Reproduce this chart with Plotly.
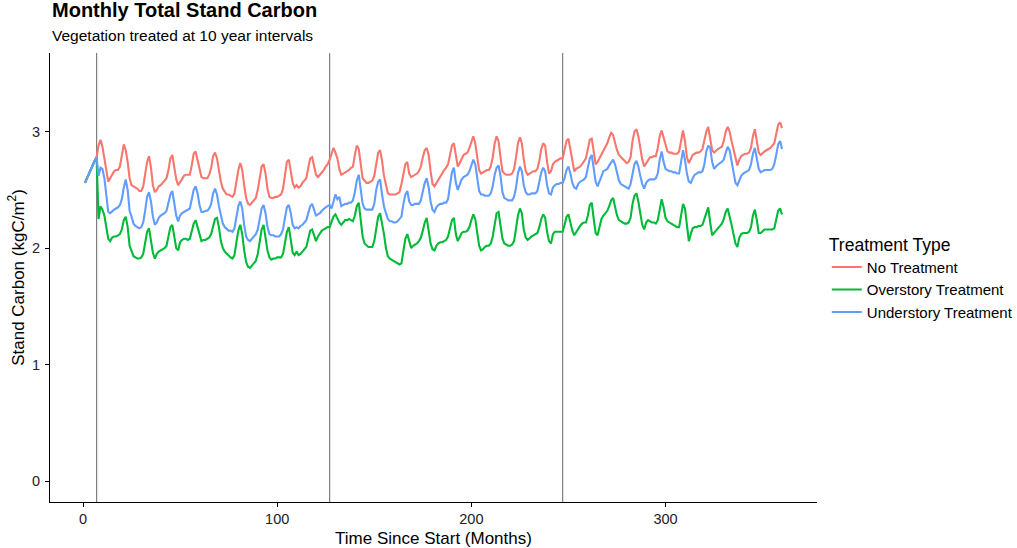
import plotly.graph_objects as go

months = list(range(1, 361))
treat_months = [7, 127, 247]

no_treatment = [
    2.56, 2.60, 2.64, 2.68, 2.71, 2.75, 2.78, 2.88, 2.93, 2.87, 2.77, 2.67,
    2.57, 2.60, 2.63, 2.66, 2.67, 2.67, 2.70, 2.80, 2.89, 2.84, 2.74, 2.60,
    2.54, 2.53, 2.52, 2.51, 2.49, 2.49, 2.53, 2.63, 2.74, 2.79, 2.69, 2.54,
    2.48, 2.50, 2.53, 2.54, 2.56, 2.57, 2.60, 2.67, 2.77, 2.80, 2.71, 2.59,
    2.54, 2.57, 2.60, 2.62, 2.63, 2.63, 2.63, 2.71, 2.81, 2.83, 2.76, 2.67,
    2.61, 2.60, 2.60, 2.60, 2.63, 2.69, 2.79, 2.82, 2.77, 2.66, 2.57, 2.51,
    2.48, 2.46, 2.46, 2.45, 2.44, 2.47, 2.57, 2.67, 2.73, 2.67, 2.54, 2.43,
    2.38, 2.37, 2.39, 2.41, 2.43, 2.50, 2.61, 2.70, 2.72, 2.64, 2.51, 2.44,
    2.43, 2.43, 2.44, 2.44, 2.45, 2.46, 2.51, 2.63, 2.74, 2.76, 2.67, 2.56,
    2.52, 2.54, 2.52, 2.53, 2.56, 2.58, 2.60, 2.69, 2.77, 2.78, 2.71, 2.63,
    2.61, 2.63, 2.65, 2.67, 2.70, 2.72, 2.76, 2.82, 2.86, 2.82, 2.77, 2.68,
    2.63, 2.64, 2.65, 2.66, 2.67, 2.69, 2.70, 2.80, 2.88, 2.85, 2.72, 2.60,
    2.58, 2.56, 2.56, 2.57, 2.58, 2.62, 2.72, 2.82, 2.84, 2.75, 2.62, 2.55,
    2.47, 2.46, 2.46, 2.46, 2.46, 2.47, 2.48, 2.55, 2.65, 2.72, 2.74, 2.64,
    2.61, 2.62, 2.63, 2.64, 2.66, 2.70, 2.78, 2.84, 2.86, 2.80, 2.66, 2.55,
    2.53, 2.56, 2.59, 2.62, 2.64, 2.67, 2.69, 2.72, 2.80, 2.88, 2.90, 2.78,
    2.70, 2.73, 2.77, 2.80, 2.81, 2.82, 2.86, 2.92, 2.96, 2.90, 2.78, 2.67,
    2.64, 2.65, 2.66, 2.67, 2.67, 2.70, 2.78, 2.90, 2.96, 2.92, 2.78, 2.66,
    2.64, 2.63, 2.63, 2.63, 2.64, 2.68, 2.78, 2.90, 2.95, 2.90, 2.76, 2.66,
    2.63, 2.64, 2.65, 2.66, 2.66, 2.68, 2.75, 2.85, 2.90, 2.88, 2.74, 2.64,
    2.66, 2.72, 2.74, 2.75, 2.76, 2.77, 2.77, 2.85, 2.92, 2.94, 2.85, 2.74,
    2.66, 2.68, 2.69, 2.70, 2.72, 2.75, 2.77, 2.85, 2.93, 2.94, 2.82, 2.72,
    2.74, 2.77, 2.81, 2.84, 2.86, 2.90, 2.95, 2.99, 2.97, 2.90, 2.84, 2.80,
    2.78, 2.76, 2.75, 2.73, 2.74, 2.78, 2.92, 3.00, 3.02, 2.96, 2.86, 2.76,
    2.70, 2.73, 2.76, 2.78, 2.78, 2.79, 2.79, 2.86, 2.96, 3.01, 2.95, 2.88,
    2.83, 2.82, 2.82, 2.81, 2.81, 2.81, 2.83, 2.94, 3.01, 2.92, 2.78, 2.73,
    2.77, 2.80, 2.81, 2.82, 2.82, 2.83, 2.85, 2.92, 3.00, 3.04, 2.94, 2.84,
    2.82, 2.84, 2.85, 2.86, 2.87, 2.92, 3.00, 3.04, 3.00, 2.92, 2.84, 2.76,
    2.71, 2.76, 2.79, 2.80, 2.81, 2.81, 2.82, 2.86, 2.96, 3.02, 2.92, 2.82,
    2.80, 2.82, 2.83, 2.84, 2.85, 2.86, 2.88, 2.90, 2.98, 3.06, 3.08, 3.03,
]

overstory = [
    2.56, 2.60, 2.64, 2.68, 2.71, 2.75, 2.78, 2.25, 2.36, 2.33, 2.28, 2.18,
    2.08, 2.06, 2.09, 2.10, 2.10, 2.11, 2.12, 2.16, 2.24, 2.27, 2.18, 2.02,
    1.97, 1.93, 1.92, 1.91, 1.91, 1.92, 1.95, 2.04, 2.14, 2.17, 2.08, 1.96,
    1.91, 1.95, 1.97, 1.98, 1.99, 2.00, 2.02, 2.10, 2.18, 2.20, 2.10, 2.00,
    1.98, 2.05, 2.07, 2.08, 2.08, 2.07, 2.08, 2.14, 2.21, 2.24, 2.18, 2.10,
    2.06, 2.07, 2.07, 2.08, 2.09, 2.12, 2.20, 2.25, 2.26, 2.18, 2.06, 2.00,
    1.97, 1.95, 1.93, 1.92, 1.91, 1.94, 2.05, 2.15, 2.20, 2.12, 1.98, 1.88,
    1.84, 1.83, 1.85, 1.87, 1.89, 1.95, 2.06, 2.16, 2.20, 2.10, 1.98, 1.92,
    1.90, 1.91, 1.91, 1.92, 1.92, 1.92, 1.95, 2.04, 2.14, 2.18, 2.08, 1.96,
    1.94, 1.97, 1.94, 1.95, 1.97, 1.99, 2.01, 2.08, 2.15, 2.16, 2.10, 2.06,
    2.10, 2.13, 2.15, 2.16, 2.17, 2.18, 2.18, 2.23, 2.27, 2.29, 2.25, 2.22,
    2.20, 2.22, 2.24, 2.24, 2.25, 2.24, 2.23, 2.28, 2.36, 2.39, 2.26, 2.10,
    2.04, 2.02, 2.01, 2.01, 2.01, 2.06, 2.18, 2.27, 2.30, 2.22, 2.12, 2.00,
    1.93, 1.91, 1.90, 1.89, 1.88, 1.87, 1.86, 1.87, 1.98, 2.08, 2.12, 2.05,
    2.00, 2.02, 2.03, 2.04, 2.06, 2.09, 2.15, 2.22, 2.26, 2.16, 2.04, 1.99,
    1.98, 2.02, 2.04, 2.05, 2.05, 2.06, 2.07, 2.10, 2.18, 2.24, 2.26, 2.12,
    2.06, 2.10, 2.13, 2.14, 2.14, 2.15, 2.18, 2.24, 2.29, 2.25, 2.12, 2.02,
    1.98, 1.99, 2.01, 2.02, 2.02, 2.04, 2.10, 2.22, 2.30, 2.31, 2.20, 2.08,
    2.04, 2.03, 2.02, 2.02, 2.03, 2.06, 2.16, 2.28, 2.34, 2.30, 2.16, 2.09,
    2.07, 2.09, 2.10, 2.11, 2.12, 2.13, 2.18, 2.25, 2.29, 2.26, 2.14, 2.06,
    2.04, 2.12, 2.14, 2.14, 2.14, 2.14, 2.14, 2.20, 2.27, 2.29, 2.22, 2.15,
    2.11, 2.14, 2.17, 2.19, 2.21, 2.22, 2.22, 2.28, 2.37, 2.39, 2.25, 2.13,
    2.11, 2.18, 2.25, 2.28, 2.30, 2.32, 2.36, 2.41, 2.43, 2.36, 2.28, 2.24,
    2.23, 2.22, 2.21, 2.21, 2.22, 2.26, 2.38, 2.45, 2.47, 2.40, 2.30, 2.20,
    2.16, 2.22, 2.24, 2.23, 2.22, 2.22, 2.21, 2.24, 2.34, 2.42, 2.35, 2.26,
    2.23, 2.22, 2.21, 2.20, 2.19, 2.18, 2.18, 2.28, 2.38, 2.34, 2.20, 2.06,
    2.12, 2.17, 2.18, 2.18, 2.19, 2.19, 2.20, 2.25, 2.32, 2.35, 2.22, 2.11,
    2.13, 2.15, 2.17, 2.19, 2.21, 2.25, 2.31, 2.34, 2.28, 2.20, 2.12, 2.04,
    2.01, 2.09, 2.12, 2.13, 2.13, 2.13, 2.14, 2.18, 2.28, 2.33, 2.24, 2.13,
    2.13, 2.15, 2.16, 2.16, 2.16, 2.16, 2.16, 2.17, 2.25, 2.32, 2.34, 2.29,
]

understory = [
    2.56, 2.60, 2.64, 2.68, 2.71, 2.75, 2.78, 2.62, 2.69, 2.68, 2.60, 2.45,
    2.31, 2.30, 2.32, 2.33, 2.34, 2.35, 2.37, 2.42, 2.52, 2.59, 2.50, 2.32,
    2.27, 2.21, 2.19, 2.18, 2.17, 2.18, 2.22, 2.32, 2.44, 2.48, 2.40, 2.27,
    2.20, 2.22, 2.26, 2.28, 2.29, 2.30, 2.32, 2.38, 2.46, 2.49, 2.40, 2.28,
    2.23, 2.28, 2.30, 2.31, 2.32, 2.33, 2.34, 2.42, 2.50, 2.53, 2.47, 2.37,
    2.31, 2.31, 2.32, 2.32, 2.34, 2.38, 2.47, 2.51, 2.46, 2.36, 2.27, 2.21,
    2.18, 2.16, 2.15, 2.15, 2.14, 2.17, 2.27, 2.36, 2.40, 2.34, 2.20, 2.10,
    2.07, 2.06, 2.08, 2.10, 2.12, 2.16, 2.25, 2.34, 2.37, 2.30, 2.18, 2.12,
    2.11, 2.11, 2.10, 2.10, 2.10, 2.12, 2.16, 2.26, 2.35, 2.37, 2.30, 2.20,
    2.17, 2.18, 2.17, 2.19, 2.20, 2.22, 2.24, 2.30, 2.36, 2.38, 2.32, 2.28,
    2.29, 2.30, 2.32, 2.34, 2.35, 2.36, 2.37, 2.34, 2.40, 2.46, 2.42, 2.44,
    2.36, 2.37, 2.38, 2.38, 2.39, 2.39, 2.41, 2.48, 2.58, 2.63, 2.52, 2.38,
    2.34, 2.33, 2.33, 2.33, 2.33, 2.38, 2.50, 2.57, 2.59, 2.46, 2.36, 2.30,
    2.25, 2.23, 2.23, 2.22, 2.22, 2.23, 2.25, 2.27, 2.38, 2.46, 2.49, 2.40,
    2.37, 2.37, 2.38, 2.38, 2.38, 2.41, 2.48, 2.56, 2.60, 2.52, 2.40, 2.33,
    2.31, 2.35, 2.37, 2.38, 2.38, 2.39, 2.39, 2.42, 2.54, 2.65, 2.69, 2.56,
    2.50, 2.55, 2.59, 2.61, 2.62, 2.63, 2.66, 2.72, 2.76, 2.72, 2.60, 2.49,
    2.46, 2.46, 2.45, 2.45, 2.45, 2.47, 2.53, 2.63, 2.69, 2.71, 2.62, 2.48,
    2.43, 2.42, 2.41, 2.41, 2.41, 2.44, 2.52, 2.64, 2.70, 2.66, 2.54, 2.48,
    2.46, 2.46, 2.47, 2.47, 2.47, 2.49, 2.56, 2.65, 2.69, 2.66, 2.54, 2.47,
    2.46, 2.52, 2.54, 2.55, 2.55, 2.56, 2.56, 2.60, 2.67, 2.70, 2.64, 2.56,
    2.52, 2.51, 2.55, 2.57, 2.58, 2.59, 2.61, 2.68, 2.77, 2.80, 2.68, 2.57,
    2.53, 2.58, 2.63, 2.66, 2.67, 2.68, 2.71, 2.74, 2.76, 2.72, 2.64, 2.58,
    2.55, 2.54, 2.53, 2.52, 2.51, 2.55, 2.65, 2.72, 2.75, 2.70, 2.62, 2.55,
    2.51, 2.56, 2.58, 2.59, 2.59, 2.59, 2.60, 2.64, 2.76, 2.83, 2.74, 2.68,
    2.67, 2.66, 2.66, 2.65, 2.65, 2.64, 2.64, 2.75, 2.84, 2.76, 2.64, 2.57,
    2.56, 2.60, 2.63, 2.64, 2.65, 2.65, 2.66, 2.72, 2.83, 2.88, 2.86, 2.74,
    2.68, 2.70, 2.72, 2.73, 2.74, 2.76, 2.82, 2.87, 2.84, 2.74, 2.64, 2.56,
    2.54, 2.58, 2.62, 2.64, 2.65, 2.66, 2.67, 2.72, 2.81, 2.86, 2.76, 2.68,
    2.65, 2.66, 2.67, 2.67, 2.67, 2.67, 2.68, 2.72, 2.80, 2.89, 2.92, 2.85,
]

series = [
    ("No Treatment", no_treatment, "#F8766D"),
    ("Overstory Treatment", overstory, "#00BA38"),
    ("Understory Treatment", understory, "#619CFF"),
]

font = "Liberation Sans, Arial, sans-serif"

fig = go.Figure()
for name, vals, col in series:
    fig.add_trace(go.Scatter(x=months, y=vals, mode="lines", name=name,
                             line=dict(color=col, width=2.1)))

for m in treat_months:
    fig.add_shape(type="line", xref="x", yref="paper", x0=m, x1=m, y0=0, y1=1,
                  line=dict(color="#7F7F7F", width=1.2), layer="below")

fig.add_annotation(text="<b>Monthly Total Stand Carbon</b>", xref="paper", yref="paper",
                   x=0, y=1.0667, xanchor="left", yanchor="bottom", showarrow=False,
                   font=dict(family=font, size=20, color="black"))
fig.add_annotation(text="Vegetation treated at 10 year intervals", xref="paper", yref="paper",
                   x=0, y=1.015, xanchor="left", yanchor="bottom", showarrow=False,
                   font=dict(family=font, size=15.5, color="black"))

fig.update_layout(
    width=1017, height=548,
    margin=dict(l=50, r=200, t=53, b=46),
    plot_bgcolor="white", paper_bgcolor="white",
    font=dict(family=font, color="black"),
    showlegend=True,
    legend=dict(
        title=dict(text="Treatment Type", font=dict(size=17.5)),
        font=dict(size=15), xref="container", yref="container",
        x=0.813, xanchor="left", y=0.584, yanchor="top",
        tracegroupgap=0, itemwidth=30,
    ),
    xaxis=dict(
        range=[-17, 378], tickvals=[0, 100, 200, 300], automargin=False,
        showline=True, linecolor="black", linewidth=1,
        ticks="outside", ticklen=4, tickcolor="black",
        showgrid=False, zeroline=False, ticklabelstandoff=0,
        tickfont=dict(size=14.5, color="#222"),
        title=dict(text="Time Since Start (Months)", font=dict(size=17), standoff=9),
    ),
    yaxis=dict(
        range=[-0.18, 3.675], tickvals=[0, 1, 2, 3], automargin=False,
        showline=True, linecolor="black", linewidth=1,
        ticks="outside", ticklen=4, tickcolor="black",
        showgrid=False, zeroline=False, ticklabelstandoff=2,
        tickfont=dict(size=14.5, color="#222"),
        title=dict(text="Stand Carbon (kgC/m<sup>2</sup>)", font=dict(size=17), standoff=3),
    ),
)

fig.write_html("out.html", config={"displayModeBar": False},
               post_script="document.body.style.margin='0';")
